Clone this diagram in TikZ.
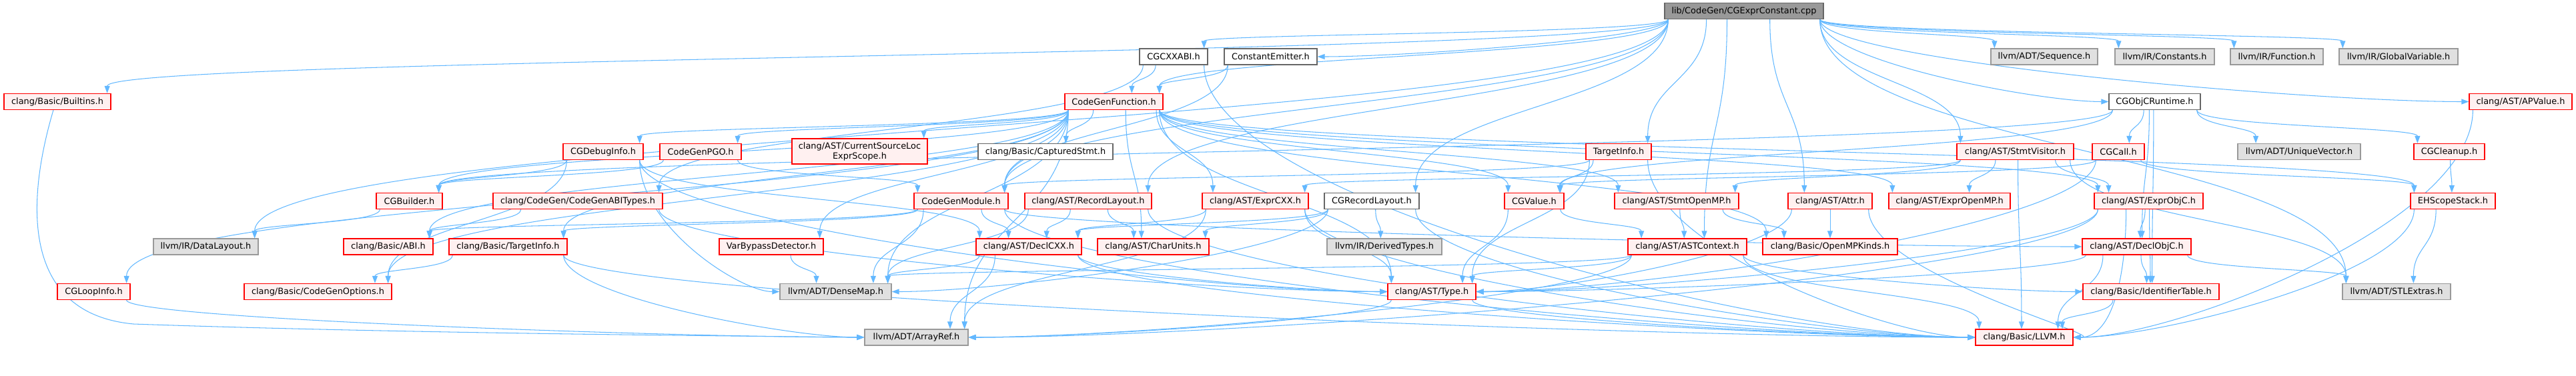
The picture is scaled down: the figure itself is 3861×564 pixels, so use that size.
\documentclass[tikz,border=0pt]{standalone}
\usepackage{fontspec}
\setmainfont{DejaVu Sans}
\usetikzlibrary{calc,arrows.meta}
\pgfdeclarelayer{bg}
\pgfsetlayers{bg,main}
\definecolor{edgeblue}{HTML}{63B8FF}
\definecolor{redfill}{HTML}{FFF0F0}
\definecolor{grayfill}{HTML}{E0E0E0}
\definecolor{graydraw}{HTML}{999999}
\definecolor{darkdraw}{HTML}{666666}
\definecolor{topfill}{HTML}{999999}
\definecolor{redline}{HTML}{FF0000}
\tikzset{
 lnk/.style={draw=edgeblue, line width=1.05pt, -{Triangle[length=11pt,width=8pt]}},
 nbase/.style={rectangle, minimum height=24pt, inner sep=2pt, line width=1.3pt, font=\fontsize{12.9}{15}\selectfont, align=center},
 nred/.style={nbase, draw=redline, fill=redfill},
 ngray/.style={nbase, draw=graydraw, fill=grayfill},
 nwhite/.style={nbase, draw=darkdraw, fill=white},
 ntop/.style={nbase, draw=darkdraw, fill=topfill},
}
\newcommand\lnkD[2]{%
 \path[lnk] let \p1=(#1.south west), \p2=(#1.south east), \p3=(#2.north west), \p4=(#2.north east),
  \n1={max(\x1+6,min(\x2-6,0.5*\x1+0.5*\x2+0.3*(0.5*\x3+0.5*\x4-0.5*\x1-0.5*\x2)))},
  \n2={max(\x3+6,min(\x4-6,0.5*\x3+0.5*\x4+0.3*(0.5*\x1+0.5*\x2-0.5*\x3-0.5*\x4)))},
  \n3={0.5*((\y1)-(\y3))}
 in (\n1,\y1) .. controls (\n1,\y1-\n3) and (\n2,\y3+\n3) .. (\n2,\y3);}
\newcommand\lnkW[2]{%
 \path[lnk] let \p1=(#1.south west), \p2=(#1.south east), \p3=(#2.west),
  \n1={max(\x1+6,min(\x2-6,0.5*\x1+0.5*\x2+0.3*(\x3-0.5*\x1-0.5*\x2)))},
  \n2={\x3-max(60,0.25*(\x3-\n1))},
  \n3={0.5*((\y1)-(\y3))}
 in (\n1,\y1) .. controls (\n1,\y1-\n3) and (\n2,\y3) .. (\p3);}
\newcommand\lnkE[2]{%
 \path[lnk] let \p1=(#1.south west), \p2=(#1.south east), \p3=(#2.east),
  \n1={max(\x1+6,min(\x2-6,0.5*\x1+0.5*\x2+0.3*(\x3-0.5*\x1-0.5*\x2)))},
  \n2={\x3+max(60,0.25*(\n1-\x3))},
  \n3={0.5*((\y1)-(\y3))}
 in (\n1,\y1) .. controls (\n1,\y1-\n3) and (\n2,\y3) .. (\p3);}
\begin{document}
\begin{tikzpicture}[x=1pt,y=1pt]
\useasboundingbox (0,0) rectangle (3861,-564);
% row 0
\node[ntop,minimum width=238pt] (T) at (2614,-16.5) {lib/CodeGen/CGExprConstant.cpp};
% row 1
\node[nwhite,minimum width=102pt] (CXXABI) at (1759,-85) {CGCXXABI.h};
\node[nwhite,minimum width=139pt] (CEmit) at (1904.5,-85) {ConstantEmitter.h};
\node[ngray,minimum width=160pt] (Seq) at (3064,-85) {llvm/ADT/Sequence.h};
\node[ngray,minimum width=149pt] (Consts) at (3244.5,-85) {llvm/IR/Constants.h};
\node[ngray,minimum width=139pt] (Func) at (3412.5,-85) {llvm/IR/Function.h};
\node[ngray,minimum width=178pt] (GVar) at (3595,-85) {llvm/IR/GlobalVariable.h};
% row 2
\node[nred,minimum width=160pt] (Builtins) at (86,-152.5) {clang/Basic/Builtins.h};
\node[nred,minimum width=147pt] (CGF) at (1669.5,-152.5) {CodeGenFunction.h};
\node[nwhite,minimum width=137pt] (ObjCRT) at (3229.5,-152.5) {CGObjCRuntime.h};
\node[nred,minimum width=154pt] (APVal) at (3778,-152.5) {clang/AST/APValue.h};
% row 3
\node[nred,minimum width=120pt] (DbgInfo) at (904,-227.5) {CGDebugInfo.h};
\node[nred,minimum width=122pt] (PGO) at (1050,-227.5) {CodeGenPGO.h};
\node[nred,minimum width=203pt,minimum height=38pt] (CSL) at (1288.5,-227) {clang/AST/CurrentSourceLoc\\ExprScope.h};
\node[nwhite,minimum width=202pt] (Captured) at (1567,-227.5) {clang/Basic/CapturedStmt.h};
\node[nred,minimum width=98pt] (TInfoCG) at (2426,-227.5) {TargetInfo.h};
\node[nred,minimum width=175pt] (SVisit) at (3020.5,-227.5) {clang/AST/StmtVisitor.h};
\node[nred,minimum width=78pt] (Call) at (3175,-227.5) {CGCall.h};
\node[ngray,minimum width=184pt] (UVec) at (3446,-227.5) {llvm/ADT/UniqueVector.h};
\node[nred,minimum width=106pt] (Cleanup) at (3671,-227.5) {CGCleanup.h};
% row 4
\node[nred,minimum width=99pt] (Builder) at (613.5,-301.5) {CGBuilder.h};
\node[nred,minimum width=254pt] (ABITypes) at (866,-301.5) {clang/CodeGen/CodeGenABITypes.h};
\node[nred,minimum width=141pt] (CGM) at (1440.5,-301.5) {CodeGenModule.h};
\node[nred,minimum width=190pt] (RecLay) at (1631,-301.5) {clang/AST/RecordLayout.h};
\node[nred,minimum width=159pt] (ExprCXX) at (1881.5,-301.5) {clang/AST/ExprCXX.h};
\node[nwhite,minimum width=142pt] (CGRecLay) at (2056,-301.5) {CGRecordLayout.h};
\node[nred,minimum width=89pt] (Value) at (2299.5,-301.5) {CGValue.h};
\node[nred,minimum width=186pt] (SOMP) at (2513,-301.5) {clang/AST/StmtOpenMP.h};
\node[nred,minimum width=126pt] (Attr) at (2743,-301.5) {clang/AST/Attr.h};
\node[nred,minimum width=182pt] (EOMP) at (2922,-301.5) {clang/AST/ExprOpenMP.h};
\node[nred,minimum width=163pt] (EObjC) at (3220.5,-301.5) {clang/AST/ExprObjC.h};
\node[nred,minimum width=127pt] (EHS) at (3676.5,-301.5) {EHScopeStack.h};
% row 5
\node[ngray,minimum width=157pt] (DLayout) at (308.5,-370) {llvm/IR/DataLayout.h};
\node[nred,minimum width=134pt] (ABI) at (582,-370) {clang/Basic/ABI.h};
\node[nred,minimum width=177pt] (BTInfo) at (761.5,-370) {clang/Basic/TargetInfo.h};
\node[nred,minimum width=156pt] (VarBP) at (1156,-370) {VarBypassDetector.h};
\node[nred,minimum width=158pt] (DeclCXX) at (1542,-370) {clang/AST/DeclCXX.h};
\node[nred,minimum width=167pt] (CharU) at (1728.5,-370) {clang/AST/CharUnits.h};
\node[ngray,minimum width=172pt] (DerT) at (2075,-370) {llvm/IR/DerivedTypes.h};
\node[nred,minimum width=178pt] (ASTCtx) at (2529,-370) {clang/AST/ASTContext.h};
\node[nred,minimum width=202pt] (OMPK) at (2743,-370) {clang/Basic/OpenMPKinds.h};
\node[nred,minimum width=163pt] (DeclObjC) at (3202.5,-370) {clang/AST/DeclObjC.h};
% row 6
\node[nred,minimum width=109pt] (LoopInfo) at (140.5,-437.5) {CGLoopInfo.h};
\node[nred,minimum width=221pt] (CGOpts) at (476.5,-437.5) {clang/Basic/CodeGenOptions.h};
\node[ngray,minimum width=167pt] (DMap) at (1252.5,-437.5) {llvm/ADT/DenseMap.h};
\node[nred,minimum width=132pt] (Type) at (2146,-437.5) {clang/AST/Type.h};
\node[nred,minimum width=204pt] (IdTab) at (3224,-437.5) {clang/Basic/IdentifierTable.h};
\node[ngray,minimum width=162pt] (STL) at (3592,-437.5) {llvm/ADT/STLExtras.h};
% row 7
\node[ngray,minimum width=155pt] (ARef) at (1373.5,-506) {llvm/ADT/ArrayRef.h};
\node[nred,minimum width=146pt] (LLVM) at (3034,-506) {clang/Basic/LLVM.h};
\begin{pgfonlayer}{bg}
% from the source file
\lnkD{T}{Builtins}
\lnkD{T}{DLayout}
\lnkD{T}{CGF}
\lnkD{T}{CXXABI}
\lnkE{T}{CEmit}
\lnkD{T}{CGM}
\lnkD{T}{CGRecLay}
\lnkD{T}{TInfoCG}
\lnkD{T}{ASTCtx}
\lnkD{T}{Attr}
\lnkD{T}{RecLay}
\lnkD{T}{SVisit}
\lnkD{T}{Seq}
\lnkD{T}{Consts}
\lnkD{T}{Func}
\lnkD{T}{GVar}
\lnkW{T}{ObjCRT}
\lnkW{T}{APVal}
\lnkD{T}{STL}
% CGCXXABI / ConstantEmitter
\lnkD{CXXABI}{CGF}
\lnkD{CXXABI}{ABITypes}
\lnkW{CXXABI}{LLVM}
\lnkD{CEmit}{CGF}
\lnkD{CEmit}{CGM}
% CodeGenFunction
\lnkD{CGF}{Builder}
\lnkD{CGF}{DbgInfo}
\lnkD{CGF}{LoopInfo}
\lnkD{CGF}{Value}
\lnkD{CGF}{CGM}
\lnkD{CGF}{PGO}
\lnkD{CGF}{EHS}
\lnkD{CGF}{VarBP}
\lnkD{CGF}{CharU}
\lnkD{CGF}{CSL}
\lnkD{CGF}{ExprCXX}
\lnkD{CGF}{EObjC}
\lnkD{CGF}{EOMP}
\lnkD{CGF}{SOMP}
\lnkD{CGF}{Type}
\lnkD{CGF}{ABI}
\lnkD{CGF}{Captured}
\lnkD{CGF}{CGOpts}
\lnkD{CGF}{OMPK}
\lnkD{CGF}{BTInfo}
\lnkD{CGF}{ARef}
\lnkD{CGF}{DMap}
% CGDebugInfo, CodeGenPGO, ABI types, TargetInfo
\lnkD{DbgInfo}{Builder}
\lnkD{DbgInfo}{DeclCXX}
\lnkW{DbgInfo}{Type}
\lnkD{DbgInfo}{CGOpts}
\lnkW{DbgInfo}{DMap}
\lnkD{PGO}{Builder}
\lnkD{PGO}{CGM}
\lnkD{ABITypes}{ABI}
\lnkW{ABITypes}{Type}
\lnkD{BTInfo}{CGOpts}
\lnkW{BTInfo}{LLVM}
\lnkW{BTInfo}{ARef}
\lnkD{VarBP}{DMap}
\lnkD{Builder}{DLayout}
\path[lnk] ([xshift=-6pt]Builtins.south) .. controls (40,-300) and (30,-470) .. (200,-486)
  .. controls (600,-500) and (1100,-504) .. (ARef.west);
\lnkW{LoopInfo}{ARef}
% CodeGenModule
\lnkD{CGM}{DeclCXX}
\lnkW{CGM}{DeclObjC}
\lnkD{CGM}{ABI}
\lnkD{CGM}{BTInfo}
\lnkD{CGM}{DMap}
\lnkW{CGM}{LLVM}
% AST headers
\lnkD{RecLay}{DeclCXX}
\lnkD{RecLay}{CharU}
\lnkW{RecLay}{LLVM}
\lnkD{RecLay}{DMap}
\lnkD{ExprCXX}{DeclCXX}
\lnkD{ExprCXX}{Type}
\lnkW{ExprCXX}{LLVM}
\lnkD{ExprCXX}{ARef}
\lnkD{CGRecLay}{DeclCXX}
\lnkD{CGRecLay}{CharU}
\lnkD{CGRecLay}{DerT}
\lnkE{CGRecLay}{DMap}
\lnkW{CGRecLay}{LLVM}
\lnkD{Value}{Type}
\lnkD{Value}{ASTCtx}
\lnkD{TInfoCG}{Value}
\lnkD{TInfoCG}{Type}
\lnkD{TInfoCG}{CGM}
\lnkW{TInfoCG}{LLVM}
\lnkD{SOMP}{ASTCtx}
\lnkD{SOMP}{OMPK}
\lnkD{ASTCtx}{Type}
\lnkD{ASTCtx}{LLVM}
\lnkW{ASTCtx}{IdTab}
\lnkE{ASTCtx}{ARef}
\lnkD{ASTCtx}{DMap}
\lnkW{Type}{LLVM}
\lnkE{Type}{ARef}
\lnkD{DeclCXX}{DMap}
\lnkD{DeclCXX}{ARef}
\lnkW{DeclCXX}{Type}
\lnkW{DeclCXX}{LLVM}
\lnkD{DeclObjC}{IdTab}
\lnkD{DeclObjC}{STL}
\lnkD{DeclObjC}{LLVM}
\lnkE{DeclObjC}{Type}
\lnkD{EObjC}{DeclObjC}
\lnkD{EObjC}{IdTab}
\lnkE{EObjC}{LLVM}
\lnkE{EObjC}{Type}
\lnkE{EObjC}{ARef}
\lnkD{SVisit}{ExprCXX}
\lnkD{SVisit}{EObjC}
\lnkD{SVisit}{EOMP}
\lnkD{SVisit}{SOMP}
\lnkD{SVisit}{LLVM}
\lnkD{SVisit}{STL}
% ObjC runtime and cleanup
\lnkD{ObjCRT}{Builder}
\lnkD{ObjCRT}{Call}
\lnkD{ObjCRT}{Cleanup}
\lnkD{ObjCRT}{Value}
\lnkD{ObjCRT}{DeclObjC}
\lnkD{ObjCRT}{IdTab}
\lnkD{ObjCRT}{UVec}
\lnkD{Call}{Value}
\lnkD{Call}{EHS}
\lnkE{Call}{Type}
\lnkD{Cleanup}{EHS}
\lnkD{EHS}{STL}
\lnkE{EHS}{LLVM}
\lnkE{APVal}{LLVM}
\lnkD{IdTab}{LLVM}
\lnkD{Attr}{OMPK}
\lnkE{Attr}{Type}
\lnkE{Attr}{LLVM}
\end{pgfonlayer}
\end{tikzpicture}
\end{document}
